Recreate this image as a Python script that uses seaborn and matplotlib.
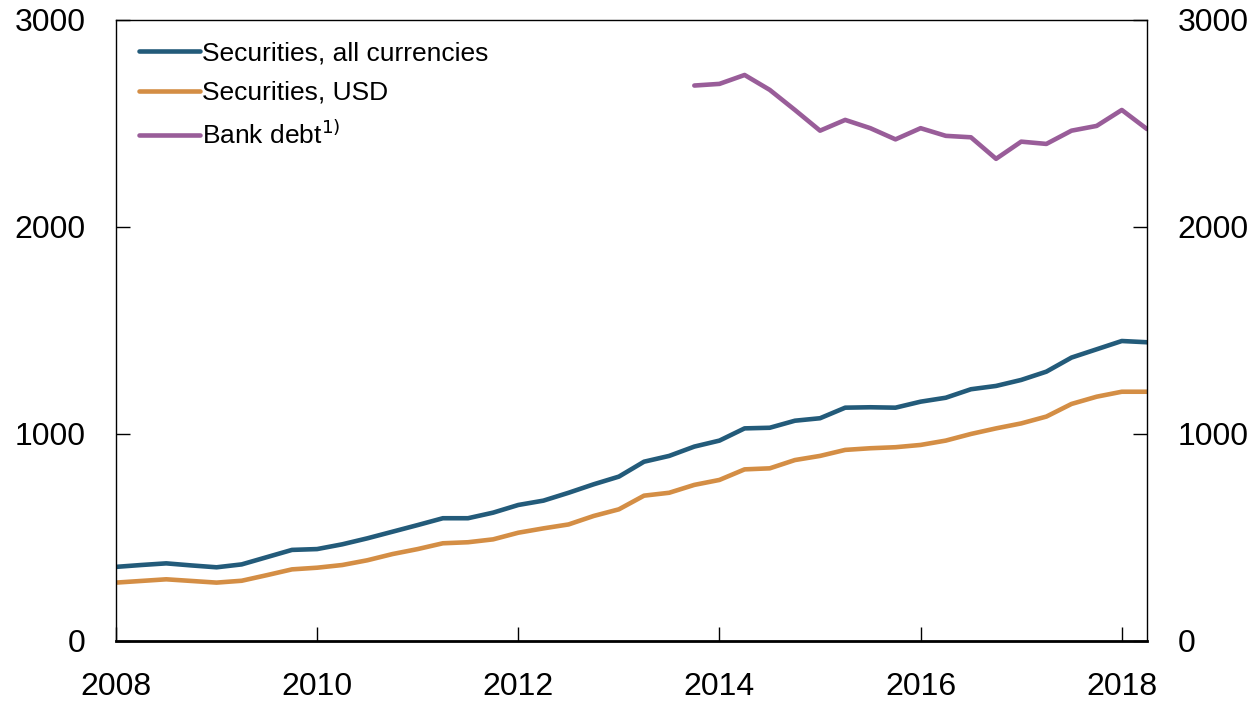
# %% Imports

import matplotlib.pyplot as plt
import numpy as np
import pandas as pd
import seaborn as sns

# %% Data (quarterly, 2008 Q1 - 2018 Q2)

QUARTERS = pd.period_range("2008Q1", "2018Q2", freq="Q")

SEC_ALL = [
    358, 367, 375, 365, 356, 370, 405, 440, 444, 467,
    496, 528, 560, 593, 593, 620, 657, 678, 716, 757,
    794, 866, 894, 939, 968, 1027, 1030, 1064, 1076, 1127,
    1129, 1127, 1156, 1175, 1216, 1232, 1261, 1301, 1369, 1409,
    1449, 1443,
]

SEC_USD = [
    282, 290, 298, 290, 282, 291, 318, 346, 354, 367,
    390, 420, 444, 472, 477, 491, 523, 544, 563, 604,
    636, 702, 716, 754, 778, 829, 834, 874, 894, 923,
    931, 936, 947, 968, 1000, 1027, 1051, 1084, 1145, 1180,
    1204, 1204,
]

BANK_DEBT = [np.nan] * 23 + [
    2683, 2691, 2734, 2662, 2565, 2465, 2517, 2477, 2423, 2477,
    2440, 2433, 2329, 2412, 2401, 2465, 2488, 2565, 2473,
]

LABELS = ["Securities, all currencies", "Securities, USD", "Bank debt$^{1)}$"]
COLORS = ["#235B7A", "#D48E45", "#995D99"]

# %% Build frame

x = QUARTERS.year + (QUARTERS.quarter - 1) / 4
df = pd.DataFrame({"x": x, LABELS[0]: SEC_ALL, LABELS[1]: SEC_USD, LABELS[2]: BANK_DEBT})
long = df.melt(id_vars="x", var_name="Series", value_name="Value").dropna()

# %% Plot

sns.set_style("white")
plt.rcParams["font.family"] = ["Liberation Sans", "DejaVu Sans"]

fig = plt.figure(figsize=(12.55, 7.01), dpi=100)
ax = fig.add_axes([0.0924, 0.0856, 0.8215, 0.886])

sns.lineplot(
    data=long, x="x", y="Value", hue="Series", hue_order=LABELS,
    palette=COLORS, linewidth=3.3, ax=ax,
)

ax.set_xlim(x.min(), x.max())
ax.set_ylim(0, 3000)
ax.set_xticks(range(2008, 2019, 2))
ax.set_yticks([0, 1000, 2000, 3000])
ax.set_xlabel("")
ax.set_ylabel("")

ax.tick_params(
    axis="both", direction="in", length=10, width=1, labelsize=23,
    right=True, labelright=True, left=True, bottom=True, colors="black",
)
ax.tick_params(axis="x", pad=22)
ax.tick_params(axis="y", pad=22)

for side in ["left", "right", "top"]:
    ax.spines[side].set_linewidth(1)
    ax.spines[side].set_color("black")
ax.spines["bottom"].set_linewidth(2)
ax.spines["bottom"].set_color("black")

ax.legend(
    loc="upper left", frameon=False, fontsize=19, handlelength=2.3,
    handletextpad=0.1, labelspacing=0.6, borderaxespad=0.4,
    bbox_to_anchor=(0.002, 1.0), labelcolor="black",
)

fig.savefig("out.png", dpi=100)
